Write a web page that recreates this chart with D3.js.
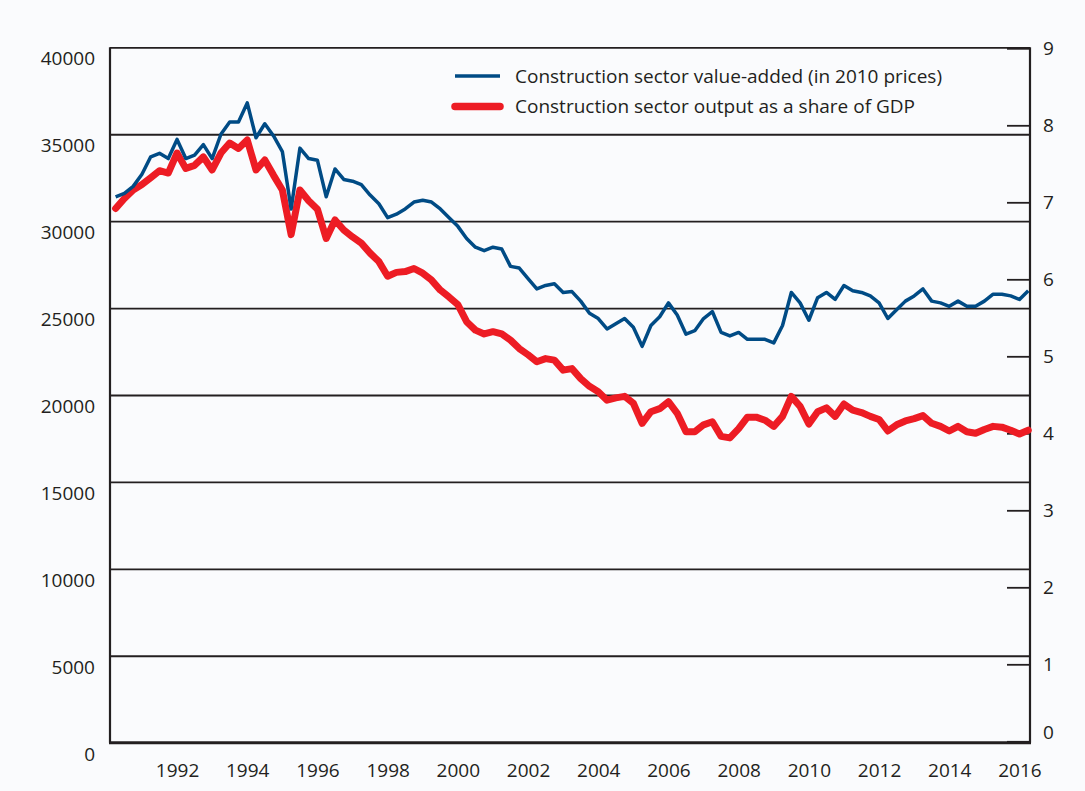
<!DOCTYPE html>
<html>
<head>
<meta charset="utf-8">
<script src="https://cdn.jsdelivr.net/npm/d3@7"></script>
<style>
  body { margin: 0; background: #fafbfd; }
  text { font-family: "Open Sans", sans-serif; fill: #231f20; }
</style>
</head>
<body>
<div id="chart"></div>
<script>
// quarterly series, first point 1990 Q2
var startYear = 1990.25;

var valueAdded = [31400, 31600, 32000, 32700, 33700, 33900, 33600, 34700, 33600, 33800,
  34400, 33600, 35000, 35700, 35700, 36800, 34800, 35600, 34900, 34000,
  30700, 34200, 33600, 33500, 31400, 33000, 32400, 32300, 32100, 31500,
  31000, 30200, 30400, 30700, 31100, 31200, 31100, 30700, 30200, 29700,
  29000, 28500, 28300, 28500, 28400, 27400, 27300, 26700, 26100, 26300,
  26400, 25900, 25950, 25400, 24700, 24400, 23800, 24100, 24400, 23900,
  22800, 24000, 24500, 25300, 24600, 23500, 23700, 24400, 24800, 23600,
  23400, 23600, 23200, 23200, 23200, 23000, 24000, 25900, 25300, 24300,
  25600, 25900, 25500, 26300, 26000, 25900, 25700, 25300, 24400, 24900,
  25400, 25700, 26100, 25400, 25300, 25100, 25400, 25100, 25100, 25400,
  25800, 25800, 25700, 25500, 26000];

var shareOfGdp = [6.92, 7.05, 7.16, 7.23, 7.32, 7.41, 7.38, 7.64, 7.44, 7.48,
  7.59, 7.42, 7.64, 7.77, 7.70, 7.81, 7.42, 7.55, 7.35, 7.16,
  6.58, 7.16, 7.02, 6.91, 6.53, 6.77, 6.64, 6.55, 6.47, 6.34,
  6.23, 6.04, 6.09, 6.10, 6.14, 6.08, 5.99, 5.86, 5.77, 5.67,
  5.45, 5.34, 5.29, 5.32, 5.29, 5.21, 5.10, 5.02, 4.93, 4.97,
  4.95, 4.82, 4.84, 4.71, 4.61, 4.54, 4.43, 4.46, 4.48, 4.39,
  4.13, 4.28, 4.32, 4.41, 4.26, 4.02, 4.02, 4.11, 4.15, 3.96,
  3.94, 4.06, 4.21, 4.21, 4.17, 4.09, 4.22, 4.48, 4.35, 4.12,
  4.28, 4.33, 4.22, 4.38, 4.30, 4.27, 4.22, 4.18, 4.03, 4.11,
  4.16, 4.19, 4.23, 4.13, 4.09, 4.03, 4.09, 4.02, 4.00, 4.05,
  4.09, 4.08, 4.04, 3.99, 4.04];

var yearTicks = [1992, 1994, 1996, 1998, 2000, 2002, 2004, 2006, 2008, 2010, 2012, 2014, 2016];
var leftTicks = [0, 5000, 10000, 15000, 20000, 25000, 30000, 35000, 40000];
var rightTicks = [0, 1, 2, 3, 4, 5, 6, 7, 8, 9];
var seriesNames = ["Construction sector value-added (in 2010 prices)",
                   "Construction sector output as a share of GDP"];
var colors = ["#004b85", "#ed1c24"];

var margin = {top: 47.3, right: 55, bottom: 48.3, left: 110},
    width = 1085 - margin.left - margin.right,
    height = 791 - margin.top - margin.bottom;

var svg = d3.select("#chart").append("svg")
    .attr("width", 1085)
    .attr("height", 791);

var g = svg.append("g")
    .attr("transform", "translate(" + margin.left + "," + margin.top + ")");

var x = d3.scaleLinear().domain([1990.09, 2016.30]).range([0, width]);
var y = d3.scaleLinear().domain([0, 40000]).range([height, 0]);
var y2 = d3.scaleLinear().domain([0, 9]).range([height - 1.4, 1]);

// gridlines
g.append("g")
    .attr("class", "grid")
    .call(d3.axisLeft(y).tickValues(leftTicks.slice(1)).tickSize(-width).tickFormat(""))
    .call(function(s) { s.select(".domain").remove(); })
    .selectAll("line")
    .attr("stroke", "#231f20")
    .attr("stroke-width", 1.8);

// left axis labels (sit a little below their gridlines)
var leftAxis = g.append("g")
    .call(d3.axisLeft(y).tickValues(leftTicks).tickSize(0).tickPadding(15).tickFormat(d3.format("d")));
leftAxis.select(".domain").remove();
leftAxis.selectAll("text")
    .attr("dy", "0.92em")
    .style("font-size", "19px");

// right axis, ticks pointing inward
var rightAxis = g.append("g")
    .attr("transform", "translate(" + width + ",0)")
    .call(d3.axisRight(y2).tickValues(rightTicks).tickSize(-23).tickPadding(13).tickFormat(d3.format("d")));
rightAxis.select(".domain").remove();
rightAxis.selectAll("line").attr("stroke", "#231f20").attr("stroke-width", 1.8);
rightAxis.selectAll("text")
    .style("font-size", "19px")
    .attr("dy", function(d) { return d === 0 ? "-0.15em" : "0.32em"; });

// bottom axis labels
var bottomAxis = g.append("g")
    .attr("transform", "translate(0," + height + ")")
    .call(d3.axisBottom(x).tickValues(yearTicks).tickSize(0).tickPadding(21).tickFormat(d3.format("d")));
bottomAxis.select(".domain").remove();
bottomAxis.selectAll("text").style("font-size", "19px");

// frame
g.append("line").attr("x1", 0).attr("x2", 0).attr("y1", 0).attr("y2", height)
    .attr("stroke", "#231f20").attr("stroke-width", 2.2);
g.append("line").attr("x1", width).attr("x2", width).attr("y1", 0).attr("y2", height)
    .attr("stroke", "#231f20").attr("stroke-width", 2.2);
g.append("line").attr("x1", -1).attr("x2", width + 1).attr("y1", height).attr("y2", height)
    .attr("stroke", "#231f20").attr("stroke-width", 3);

var lineLeft = d3.line()
    .x(function(d, i) { return x(startYear + i * 0.25); })
    .y(function(d) { return y(d); });

var lineRight = d3.line()
    .x(function(d, i) { return x(startYear + i * 0.25); })
    .y(function(d) { return y2(d); });

g.append("path")
    .datum(shareOfGdp)
    .attr("fill", "none")
    .attr("stroke", colors[1])
    .attr("stroke-width", 7)
    .attr("stroke-linejoin", "round")
    .attr("stroke-linecap", "round")
    .attr("d", lineRight);

g.append("path")
    .datum(valueAdded)
    .attr("fill", "none")
    .attr("stroke", colors[0])
    .attr("stroke-width", 3.5)
    .attr("stroke-linejoin", "round")
    .attr("d", lineLeft);

// legend
var legend = svg.append("g").attr("transform", "translate(455,76)");
legend.selectAll("line")
    .data(seriesNames)
    .enter()
    .append("line")
    .attr("x1", 0).attr("x2", 45)
    .attr("y1", function(d, i) { return i * 30.5; })
    .attr("y2", function(d, i) { return i * 30.5; })
    .attr("stroke", function(d, i) { return colors[i]; })
    .attr("stroke-width", function(d, i) { return i === 0 ? 3.5 : 7.5; })
    .attr("stroke-linecap", function(d, i) { return i === 0 ? "butt" : "round"; });
legend.selectAll("text")
    .data(seriesNames)
    .enter()
    .append("text")
    .attr("x", 60)
    .attr("y", function(d, i) { return i * 30.5 + 6.5; })
    .style("font-size", "19px")
    .text(function(d) { return d; });
</script>
</body>
</html>
